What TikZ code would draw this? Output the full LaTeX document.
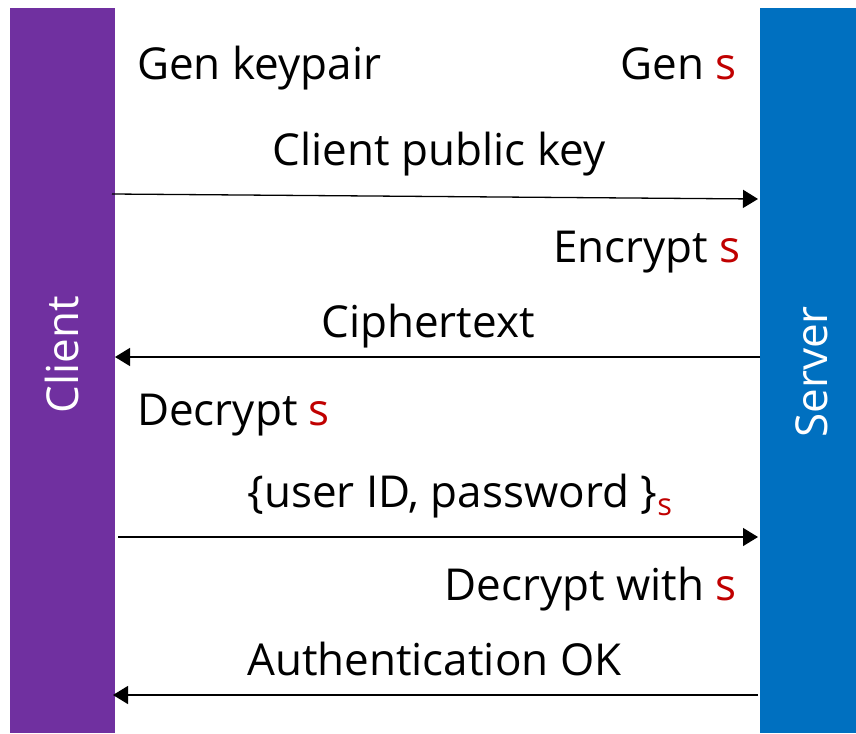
\documentclass[tikz,border=0pt]{standalone}
\usepackage{fontspec}
\setmainfont{Open Sans}
\usetikzlibrary{arrows.meta}
\definecolor{cpurple}{HTML}{7030A0}
\definecolor{sblue}{HTML}{0070C0}
\definecolor{sred}{HTML}{C00000}
\tikzset{
  lbl/.style={inner sep=0pt, font=\fontsize{44}{50}\selectfont},
  msg/.style={line width=1.3pt, -{Triangle[length=15pt,width=18pt]}},
}
\newcommand{\rs}{\textcolor{sred}{s}}
\begin{document}
\begin{tikzpicture}[x=1pt,y=-1pt]
\useasboundingbox (0,0) rectangle (856,733);
\fill[cpurple] (10,8) rectangle (115,733);
\fill[sblue] (760,8) rectangle (856,733);
\node[lbl, text=white, rotate=90] (client) at (62,355) {Client};
\node[lbl, text=white, rotate=90] (server) at (812,372) {Server};

\node[lbl, anchor=base west] (t1) at (137,80) {Gen keypair};
\node[lbl, anchor=base east] (t2) at (737,80) {Gen \rs};
\node[lbl, anchor=base] (t3) at (439,165) {Client public key};
\coordinate (a1s) at (112,194);
\coordinate (a1e) at (758,199);
\draw[msg] (a1s) -- (a1e);
\node[lbl, anchor=base east] (t4) at (741,262) {Encrypt \rs};
\node[lbl, anchor=base] (t5) at (428,337) {Ciphertext};
\coordinate (a2s) at (760,357);
\coordinate (a2e) at (115,357);
\draw[msg] (a2s) -- (a2e);
\node[lbl, anchor=base west] (t6) at (137,425) {Decrypt \rs};
\node[lbl, anchor=base] (t7) at (460,507) {\{user ID, password \}\textsubscript{\rs}};
\coordinate (a3s) at (118,537);
\coordinate (a3e) at (758,537);
\draw[msg] (a3s) -- (a3e);
\node[lbl, anchor=base east] (t8) at (737,600) {Decrypt with \rs};
\node[lbl, anchor=base west] (t9) at (247,675) {Authentication OK};
\coordinate (a4s) at (758,695);
\coordinate (a4e) at (113,695);
\draw[msg] (a4s) -- (a4e);
\end{tikzpicture}
\end{document}
